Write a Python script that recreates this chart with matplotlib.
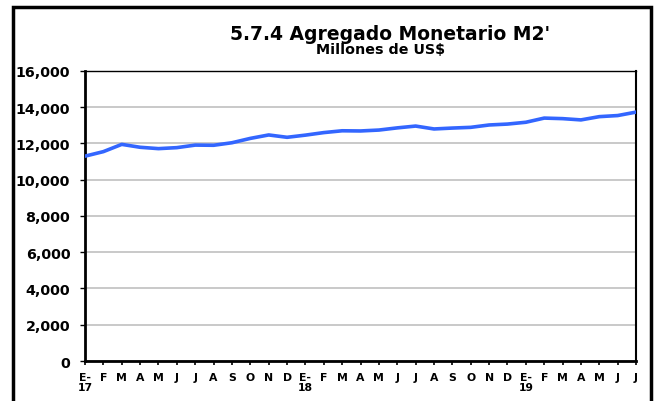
import matplotlib.pyplot as plt
from matplotlib.patches import Rectangle
from matplotlib.ticker import FuncFormatter

plt.rcParams['font.family'] = ['DejaVu Sans']

# Agregado monetario M2', millones de US$, enero 2017 - julio 2019
meses = ['E-\n17', 'F', 'M', 'A', 'M', 'J', 'J', 'A', 'S', 'O', 'N', 'D',
         'E-\n18', 'F', 'M', 'A', 'M', 'J', 'J', 'A', 'S', 'O', 'N', 'D',
         'E-\n19', 'F', 'M', 'A', 'M', 'J', 'J']
m2 = [11300, 11550, 11950, 11790, 11715, 11770, 11910, 11900, 12040, 12280,
      12470, 12340, 12460, 12600, 12700, 12690, 12740, 12860, 12960, 12800,
      12850, 12890, 13020, 13070, 13170, 13400, 13370, 13300, 13480, 13540,
      13730]

fig = plt.figure(figsize=(6.56, 4.02), dpi=100)
ax = fig.add_axes([0.1296, 0.0995, 0.84, 0.7215])

x = list(range(len(m2)))
ax.plot(x, m2, color='#3366ff', lw=2.6, solid_joinstyle='round',
        solid_capstyle='round', zorder=3)

ax.set_xlim(0, len(m2) - 1)
ax.set_ylim(0, 16000)
ax.set_yticks(range(0, 16001, 2000))
ax.yaxis.set_major_formatter(FuncFormatter(lambda v, p: f'{int(v):,}'))
ax.set_xticks(x)
ax.set_xticklabels(meses, fontsize=7.8, fontweight='bold', ha='center',
                   va='top', linespacing=1.0)
for lab in ax.get_yticklabels():
    lab.set_fontsize(10.3)
    lab.set_fontweight('bold')

ax.grid(axis='y', color='#c0c0c0', lw=1.2)
ax.set_axisbelow(True)
ax.tick_params(axis='y', length=3.6, width=1, pad=7)
ax.tick_params(axis='x', length=3, width=1.2, pad=5)

ax.spines['left'].set_linewidth(2)
ax.spines['bottom'].set_linewidth(2)
ax.spines['top'].set_linewidth(1)
ax.spines['right'].set_linewidth(1.5)

fig.text(390 / 656, 1 - 40 / 402, "5.7.4 Agregado Monetario M2'",
         ha='center', va='baseline', fontsize=13.5, fontweight='bold')
fig.text(381 / 656, 1 - 53.5 / 402, 'Millones de US$', ha='center',
         va='baseline', fontsize=10.3, fontweight='bold')

# marco exterior del gráfico
fig.patches.append(Rectangle((13 / 656, -0.05), 638 / 656, 1 - 8 / 402 + 0.05,
                             transform=fig.transFigure, fill=False,
                             edgecolor='black', lw=2.5))

fig.savefig('out.png', dpi=100)
